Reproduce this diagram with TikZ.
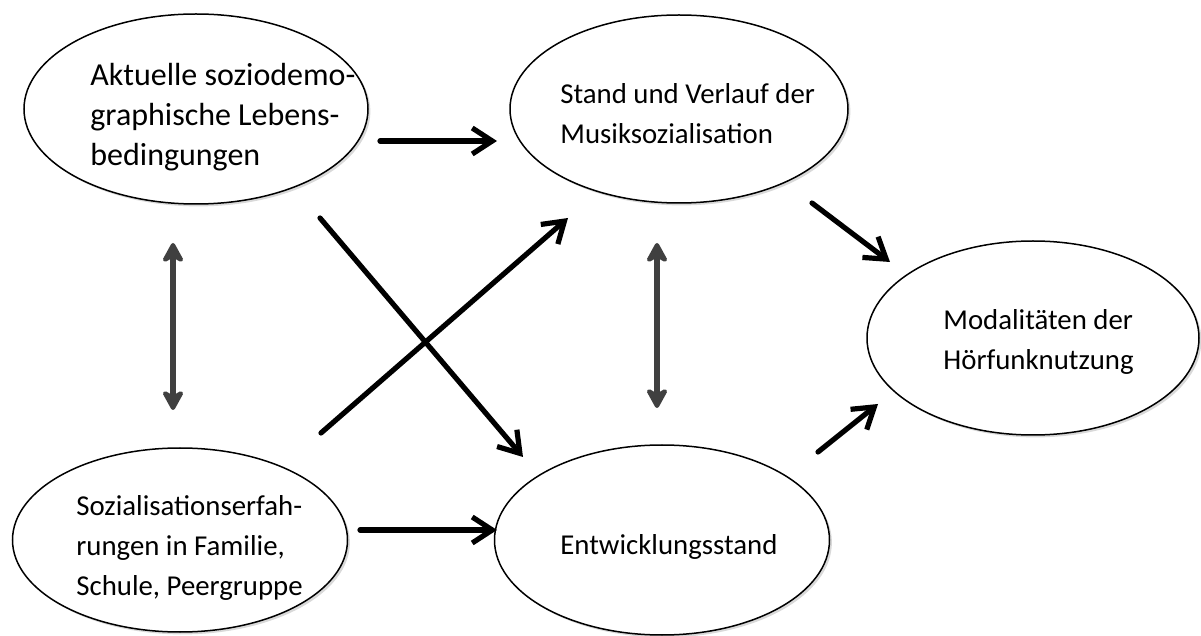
\documentclass[tikz,border=0pt]{standalone}
\usepackage{fontspec}
\setmainfont{Carlito}
\usetikzlibrary{arrows.meta,shapes.geometric,shadows}
\definecolor{arrowgray}{HTML}{404040}

\begin{document}
\begin{tikzpicture}[x=0.5pt, y=-0.5pt]

\tikzstyle{bubble}=[draw, ellipse, line width=0.75pt, fill=white, inner sep=0pt, outer sep=0pt, drop shadow={opacity=0.3, shadow xshift=1.2pt, shadow yshift=-1.2pt}]
\tikzstyle{txt}=[anchor=west, align=left, inner sep=0pt, font=\fontsize{14.4}{20}\selectfont]
\tikzstyle{arrow}=[-{Straight Barb[length=10pt, width=13pt]}, line width=2.6pt, line cap=round, line join=round]
\tikzstyle{twoway}=[{Stealth[length=12pt, width=13pt, inset=3.5pt, round]}-{Stealth[length=12pt, width=13pt, inset=3.5pt, round]}, line width=2.6pt, draw=arrowgray, fill=arrowgray]

\useasboundingbox (0,0) rectangle (1201,636);

% Left: the two background factors
\node[bubble, minimum width=172pt, minimum height=95pt] (akt) at (196,109) {};
\node[txt, font=\fontsize{16}{20}\selectfont] (akt-t) at (90,117) {Aktuelle soziodemo-\\graphische Lebens-\\bedingungen};

\node[bubble, minimum width=167.5pt, minimum height=92pt] (soz) at (180,540) {};
\node[txt] (soz-t) at (76,548) {Sozialisationserfah-\\rungen in Familie,\\Schule, Peergruppe};

% Middle: music socialisation and development
\node[bubble, minimum width=169pt, minimum height=94pt] (mus) at (679,109) {};
\node[txt] (mus-t) at (560,114) {Stand und Verlauf der\\Musiksozialisation};

\node[bubble, minimum width=167.5pt, minimum height=95pt] (ent) at (662,540) {};
\node[txt] (ent-t) at (560,547) {Entwicklungsstand};

% Right: radio use
\node[bubble, minimum width=166pt, minimum height=97pt] (hoer) at (1033,338) {};
\node[txt] (hoer-t) at (943,342) {Modalitäten der\\Hörfunknutzung};

% arrow ends
\coordinate (akt-o1) at (380,141);
\coordinate (mus-i1) at (497,141);
\coordinate (akt-o2) at (320,218);
\coordinate (ent-i1) at (523,457);
\coordinate (soz-o1) at (321,433);
\coordinate (mus-i2) at (568,218);
\coordinate (soz-o2) at (360,530);
\coordinate (ent-i2) at (497,530);
\coordinate (mus-o1) at (812,203);
\coordinate (hoer-i1) at (890,262);
\coordinate (ent-o1) at (818,452);
\coordinate (hoer-i2) at (878,404);
\coordinate (akt-b) at (173,243);
\coordinate (soz-b) at (173,410);
\coordinate (mus-b) at (657,243);
\coordinate (ent-b) at (657,408);

\draw[arrow] (akt-o1) -- (mus-i1);
\draw[arrow] (akt-o2) -- (ent-i1);
\draw[arrow] (soz-o1) -- (mus-i2);
\draw[arrow] (soz-o2) -- (ent-i2);
\draw[arrow] (mus-o1) -- (hoer-i1);
\draw[arrow] (ent-o1) -- (hoer-i2);

% mutual influence
\draw[twoway] (akt-b) -- (soz-b);
\draw[twoway] (mus-b) -- (ent-b);

\end{tikzpicture}
\end{document}
